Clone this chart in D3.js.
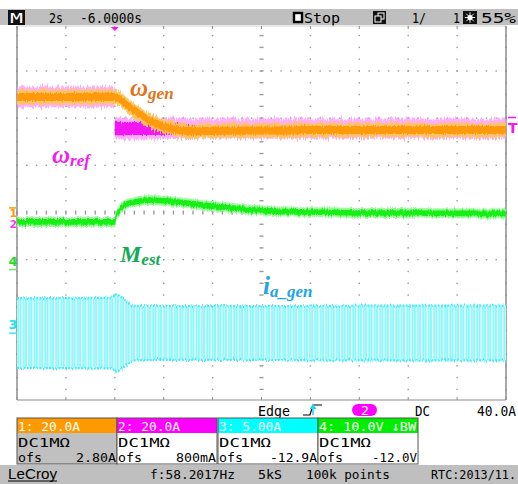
<!DOCTYPE html>
<html><head><meta charset="utf-8">
<script src="https://cdn.jsdelivr.net/npm/d3@7"></script>
<style>html,body{margin:0;padding:0;background:#fff;}svg{display:block;}</style>
</head><body>
<script>
// ---------- data ----------
// time axis: 2 s/div, 10 divisions
const timeDomain = [0, 20];
const timeGrid = [0, 2, 4, 6, 8, 10, 12, 14, 16, 18, 20];
const divGrid = [-4, -3, -2, -1, 0, 1, 2, 3, 4];

// channel settings
const channelNames = ["1: 20.0A", "2: 20.0A", "3: 5.00A", "4: 10.0V \u2193BW"];
const channelScale = [20, 20, 5, 10];      // units per division
const channelOffset = [2.8, 0.8, -12.9, -12.0];
const channelCoupling = ["DC1M\u03a9", "DC1M\u03a9", "DC1M\u03a9", "DC1M\u03a9"];
const channelOfsText = ["2.80A", "800mA", "-12.9A", "-12.0V"];

// ch1 : omega_gen (A)
const genTime = [0, 2, 4.0, 4.2, 4.6, 5.0, 5.4, 5.8, 6.2, 6.6, 7.0, 8, 10, 11, 12, 14, 16, 18, 20];
const genValue = [46.2, 46.2, 46.2, 45.3, 41.9, 39.2, 36.4, 34.5, 33.0, 32.2, 31.7, 31.8, 32.0, 31.9, 32.2, 32.2, 32.2, 32.2, 32.2];
const genRipple = [1.7, 3.1];     // core, fringe half-width (A)

// ch2 : omega_ref (A)
const refTime = [0, 4.0, 4.0, 6.6, 7.2, 20];
const refValue = [48.2, 48.2, 34.8, 34.8, 34.8, 34.8];
const refCore = [1.2, 1.2, 2.9, 2.6, 1.0, 1.0];   // dense part of the noise band (A)
const refFringe = [4.4, 4.4, 4.6, 4.4, 4.3, 4.3]; // outer noise band (A)

// ch4 : M_est (V)
const mTime = [0, 2, 4.0, 4.05, 4.15, 4.4, 4.8, 5.4, 6.2, 7.5, 8.8, 10, 12, 14, 16, 18, 20];
const mValue = [10.0, 10.0, 10.0, 11.0, 12.1, 13.6, 14.2, 14.65, 14.4, 13.6, 12.95, 12.4, 12.1, 11.9, 11.9, 11.8, 11.8];
const mRipple = [0.6, 1.05];

// ch3 : i_a_gen envelope (A peak), 58.2 Hz carrier
const iaTime = [0, 2, 3.9, 4.05, 4.3, 4.5, 4.75, 6, 10, 14, 20];
const iaAmp = [3.7, 3.72, 3.75, 4.1, 3.75, 3.35, 2.9, 2.85, 2.85, 2.9, 2.9];
const iaMean = 0.12;

// ---------- layout ----------
const W = 518, H = 484;
const plot = {x0: 17, x1: 506, y0: 23.8, y1: 401.2, top: 26, bottom: 400};

const svg = d3.select("body").append("svg").attr("width", W).attr("height", H)
  .attr("viewBox", `0 0 ${W} ${H}`);
const mono = "'DejaVu Sans Mono', 'Liberation Mono', monospace";

const x = d3.scaleLinear().domain(timeDomain).range([plot.x0, plot.x1]);
const yDiv = d3.scaleLinear().domain([-4, 4]).range([plot.y1, plot.y0]);
const chY = i => d3.scaleLinear()
  .domain([-4 * channelScale[i] - channelOffset[i], 4 * channelScale[i] - channelOffset[i]])
  .range([plot.y1, plot.y0]);

const defs = svg.append("defs");
defs.append("clipPath").attr("id", "clip").append("rect")
  .attr("x", plot.x0).attr("y", plot.top).attr("width", plot.x1 - plot.x0).attr("height", plot.bottom - plot.top);
function noiseFilter(id, freq, seed, scale) {
  const f = defs.append("filter").attr("id", id).attr("filterUnits", "userSpaceOnUse")
    .attr("x", 0).attr("y", 0).attr("width", W).attr("height", H);
  f.append("feTurbulence").attr("type", "fractalNoise").attr("baseFrequency", freq)
    .attr("numOctaves", 2).attr("seed", seed).attr("result", "n");
  f.append("feColorMatrix").attr("in", "n").attr("type", "matrix")
    .attr("values", "0 0 0 0 0.5  0 1 0 0 0  0 0 0 0 0  0 0 0 0 1").attr("result", "n2");
  f.append("feDisplacementMap").attr("in", "SourceGraphic").attr("in2", "n2").attr("scale", scale)
    .attr("xChannelSelector", "R").attr("yChannelSelector", "G");
}
noiseFilter("fuzz", "0.75 0.02", 4, 9);
noiseFilter("fuzz2", "0.9 0.03", 11, 5);
// stripe pattern for the aliased sine carrier
const pat = defs.append("pattern").attr("id", "stripes").attr("patternUnits", "userSpaceOnUse")
  .attr("width", 5.4).attr("height", 10);
pat.append("rect").attr("width", 5.4).attr("height", 10).attr("fill", "#8cf7fc");
pat.append("rect").attr("x", 0).attr("width", 1.1).attr("height", 10).attr("fill", "#ffffff");
pat.append("rect").attr("x", 2.8).attr("width", 0.6).attr("height", 10).attr("fill", "#d4fcff");

// ---------- top status bar ----------
svg.append("rect").attr("x", 0).attr("y", 9).attr("width", W).attr("height", 16).attr("fill", "#bfbfbf");
svg.append("rect").attr("x", 8).attr("y", 10).attr("width", 17).attr("height", 15).attr("fill", "#111");
function txt(g, s, x0, yb, len, opts = {}) {
  const t = g.append("text").attr("x", x0).attr("y", yb).text(s)
    .attr("font-family", opts.family || mono).attr("font-size", opts.size || 14)
    .attr("fill", opts.fill || "#000");
  if (opts.weight) t.attr("font-weight", opts.weight);
  if (len) t.attr("textLength", len).attr("lengthAdjust", "spacingAndGlyphs");
  if (opts.anchor) t.attr("text-anchor", opts.anchor);
  return t;
}
txt(svg, "M", 10, 23, 13, {fill: "#fff"});
txt(svg, "2s", 49, 23, 14);
txt(svg, "-6.0000s", 80, 23, 62);
svg.append("rect").attr("x", 294).attr("y", 13).attr("width", 8).attr("height", 9)
  .attr("fill", "#fff").attr("stroke", "#000").attr("stroke-width", 2.4);
txt(svg, "Stop", 304, 23, 36);
svg.append("rect").attr("x", 373).attr("y", 11).attr("width", 13).attr("height", 13).attr("fill", "#111");
svg.append("rect").attr("x", 378).attr("y", 13).attr("width", 6).attr("height", 6).attr("fill", "none").attr("stroke", "#fff").attr("stroke-width", 1);
svg.append("rect").attr("x", 375).attr("y", 16).attr("width", 6).attr("height", 6).attr("fill", "#111").attr("stroke", "#fff").attr("stroke-width", 1);
txt(svg, "1/", 412, 23, 14);
txt(svg, "1", 453, 23, 7);
svg.append("rect").attr("x", 463).attr("y", 11).attr("width", 14).attr("height", 13).attr("fill", "#111");
svg.append("circle").attr("cx", 470).attr("cy", 17.5).attr("r", 2.6).attr("fill", "#fff");
[0, 45, 90, 135].forEach(a => {
  const r = a * Math.PI / 180;
  svg.append("line").attr("x1", 470 - 5.2 * Math.cos(r)).attr("y1", 17.5 - 5.2 * Math.sin(r))
    .attr("x2", 470 + 5.2 * Math.cos(r)).attr("y2", 17.5 + 5.2 * Math.sin(r))
    .attr("stroke", "#fff").attr("stroke-width", 0.9);
});
txt(svg, "55%", 481, 23, 35);

// ---------- grid ----------
const grid = svg.append("g");
const divW = (plot.x1 - plot.x0) / 10, divH = (plot.y1 - plot.y0) / 8;
divGrid.forEach(d => {
  const yy = yDiv(d);
  if (yy < plot.top || yy > plot.bottom) return;
  for (let k = 0; k <= 50; k++) {
    const xx = plot.x0 + k * divW / 5;
    const center = d === 0;
    grid.append("rect").attr("x", xx - 0.7).attr("y", yy - (center ? 2 : 0.7))
      .attr("width", 1.4).attr("height", center ? 4 : 1.4).attr("fill", "#9a9a9a");
  }
});
timeGrid.forEach((t, i) => {
  const xx = x(t);
  for (let k = 0; k <= 32; k++) {
    const yy = plot.y0 + k * divH / 4;
    if (yy < plot.top || yy > plot.bottom) continue;
    const center = i === 5;
    grid.append("rect").attr("x", xx - (center ? 2 : 0.7)).attr("y", yy - 0.7)
      .attr("width", center ? 4 : 1.4).attr("height", 1.4).attr("fill", "#9a9a9a");
  }
});
grid.append("line").attr("x1", plot.x0).attr("x2", plot.x0).attr("y1", plot.top).attr("y2", plot.bottom).attr("stroke", "#8c8c8c").attr("stroke-width", 1.5);
grid.append("line").attr("x1", plot.x1).attr("x2", plot.x1).attr("y1", plot.top).attr("y2", plot.bottom).attr("stroke", "#8c8c8c").attr("stroke-width", 1.5);
grid.append("line").attr("x1", plot.x0).attr("x2", plot.x1).attr("y1", plot.bottom).attr("y2", plot.bottom).attr("stroke", "#8c8c8c").attr("stroke-width", 1.2);
grid.append("line").attr("x1", plot.x0).attr("x2", plot.x1).attr("y1", plot.top).attr("y2", plot.top).attr("stroke", "#d0d0d0").attr("stroke-width", 1);
timeGrid.forEach(t => {
  grid.append("line").attr("x1", x(t)).attr("x2", x(t)).attr("y1", plot.top).attr("y2", plot.top + 3).attr("stroke", "#8c8c8c");
  grid.append("line").attr("x1", x(t)).attr("x2", x(t)).attr("y1", plot.bottom).attr("y2", plot.bottom - 3).attr("stroke", "#8c8c8c");
});

// ---------- traces ----------
const traces = svg.append("g").attr("clip-path", "url(#clip)");
function band(times, values, yS, halfs, fill, opacity, filt, curve) {
  const rows = times.map((t, i) => ({t, v: values[i], h: Array.isArray(halfs) ? halfs[i] : halfs}));
  const a = d3.area().x(d => x(d.t)).y0(d => yS(d.v - d.h)).y1(d => yS(d.v + d.h))
    .curve(curve || d3.curveLinear);
  traces.append("path").datum(rows).attr("d", a).attr("fill", fill)
    .attr("fill-opacity", opacity).attr("filter", filt ? `url(#${filt})` : null);
}
// ch3 cyan carrier envelope
{
  const yS = chY(2);
  const rows = iaTime.map((t, i) => ({t, a: iaAmp[i]}));
  const a = d3.area().x(d => x(d.t)).y0(d => yS(iaMean - d.a)).y1(d => yS(iaMean + d.a)).curve(d3.curveMonotoneX);
  traces.append("path").datum(rows).attr("d", a).attr("fill", "url(#stripes)").attr("filter", "url(#fuzz2)");
  const top = d3.line().x(d => x(d.t)).y(d => yS(iaMean + d.a)).curve(d3.curveMonotoneX);
  const bot = d3.line().x(d => x(d.t)).y(d => yS(iaMean - d.a)).curve(d3.curveMonotoneX);
  [top, bot].forEach(l => traces.append("path").datum(rows).attr("d", l).attr("fill", "none")
    .attr("stroke", "#4ae8f3").attr("stroke-width", 2.2).attr("stroke-dasharray", "2 1.2").attr("filter", "url(#fuzz2)"));
}
// ch4 green
band(mTime, mValue, chY(3), mRipple[1], "#8dff8d", 0.9, "fuzz2", d3.curveMonotoneX);
band(mTime, mValue, chY(3), mRipple[0], "#14ee14", 1, "fuzz2", d3.curveMonotoneX);
// ch2 magenta
band(refTime, refValue, chY(1), refFringe, "#ff8cff", 0.7, "fuzz");
band(refTime, refValue, chY(1), refCore, "#f20cf2", 0.95, "fuzz2");
// ch1 orange
band(genTime, genValue, chY(0), genRipple[1], "#ffc45e", 0.95, "fuzz", d3.curveMonotoneX);
band(genTime, genValue, chY(0), genRipple[0], "#ff9a0a", 1, "fuzz2", d3.curveMonotoneX);

// ---------- markers ----------
const mk = svg.append("g").attr("font-family", "'DejaVu Sans', sans-serif").attr("font-weight", "bold").attr("font-size", 11);
const zeroY = i => chY(i)(0);
mk.append("line").attr("x1", 9).attr("x2", 16).attr("y1", zeroY(0) + 2).attr("y2", zeroY(0) + 2).attr("stroke", "#ff9a0a").attr("stroke-width", 1.5);
mk.append("text").attr("x", 9.5).attr("y", 217).attr("fill", "#ff9a0a").text("1");
mk.append("text").attr("x", 9.5).attr("y", 228).attr("fill", "#ff10ff").attr("fill-opacity", 0.85).text("2");
mk.append("text").attr("x", 8.5).attr("y", zeroY(3) - 3).attr("fill", "#22dd22").attr("font-size", 13).text("4");
mk.append("line").attr("x1", 9).attr("x2", 16).attr("y1", zeroY(3) + 0.5).attr("y2", zeroY(3) + 0.5).attr("stroke", "#66ee66").attr("stroke-width", 1.5);
mk.append("text").attr("x", 8.5).attr("y", zeroY(2) - 5).attr("fill", "#22e0f0").attr("font-size", 13).text("3");
mk.append("line").attr("x1", 9).attr("x2", 16).attr("y1", zeroY(2) - 1).attr("y2", zeroY(2) - 1).attr("stroke", "#44e6f2").attr("stroke-width", 1.5);
const trigY = chY(1)(refValue[5]);
mk.append("line").attr("x1", 508).attr("x2", 516).attr("y1", trigY - 11).attr("y2", trigY - 11).attr("stroke", "#ff10ff").attr("stroke-width", 1.5);
mk.append("text").attr("x", 508).attr("y", trigY + 4).attr("fill", "#ff10ff").attr("font-size", 14).text("T");
svg.append("path").attr("d", `M${x(4) - 4},27 L${x(4) + 4},27 L${x(4)},31 Z`).attr("fill", "#ff10ff");

// ---------- annotation labels ----------
const lab = svg.append("g").attr("font-family", "'Liberation Serif', 'Times New Roman', serif")
  .attr("font-style", "italic").attr("font-weight", "bold");
function sym(main, sub, x0, yb, col, s1, s2) {
  const t = lab.append("text").attr("x", x0).attr("y", yb).attr("fill", col);
  t.append("tspan").attr("font-size", s1).text(main);
  t.append("tspan").attr("font-size", s2).attr("dy", 3).text(sub);
}
sym("\u03c9", "gen", 130, 96, "#e27418", 25, 17);
sym("\u03c9", "ref", 52, 163, "#f21cf2", 25, 17);
sym("M", "est", 120, 262, "#12aa55", 24, 17);
sym("i", "a_gen", 263, 294, "#1da3e6", 25, 17);

// ---------- bottom info ----------
txt(svg, "Edge", 258, 416, 32);
svg.append("path").attr("d", "M303,415 H310 L313,405 H322").attr("fill", "none").attr("stroke", "#000").attr("stroke-width", 1.2);
svg.append("line").attr("x1", 313).attr("x2", 313).attr("y1", 415).attr("y2", 408).attr("stroke", "#22d6ee").attr("stroke-width", 1.6);
svg.append("path").attr("d", "M309.5,409 L313,403.5 L316.5,409 Z").attr("fill", "#22d6ee");
svg.append("rect").attr("x", 352).attr("y", 404).attr("width", 25).attr("height", 12).attr("rx", 6).attr("fill", "#ff00ff");
txt(svg, "2", 361, 415, 8, {fill: "#fff", size: 12});
txt(svg, "DC", 415, 416, 15);
txt(svg, "40.0A", 477, 416, 39);

const boxX = [17, 117, 218, 318];
const boxCol = ["#ff9900", "#ff00ff", "#00ffff", "#00ee00"];
const boxBody = ["#c0c0c0", "#ffffff", "#ffffff", "#ffffff"];
const nameLen = [62, 62, 62, 97];
const ofsLen = [40, 40, 47, 45];
channelNames.forEach((name, i) => {
  const bx = boxX[i], bw = 100;
  svg.append("rect").attr("x", bx).attr("y", 433).attr("width", bw).attr("height", 31).attr("fill", boxBody[i]);
  svg.append("rect").attr("x", bx).attr("y", 418).attr("width", bw).attr("height", 15).attr("fill", boxCol[i]);
  svg.append("rect").attr("x", bx).attr("y", 418).attr("width", bw).attr("height", 46)
    .attr("fill", "none").attr("stroke", "#555").attr("stroke-width", 1);
  txt(svg, name, bx + 1, 431, nameLen[i], {fill: "#fff", size: 13});
  txt(svg, channelCoupling[i], bx + 1, 447, 52, {size: 12});
  txt(svg, "ofs", bx + 1, 462, 24, {size: 12});
  txt(svg, channelOfsText[i], bx + 99, 462, ofsLen[i], {anchor: "end", size: 12});
});

svg.append("rect").attr("x", 0).attr("y", 465).attr("width", W).attr("height", 19).attr("fill", "#bfbfbf");
txt(svg, "LeCroy", 8, 479, 49, {family: "'Liberation Sans', Arial, sans-serif", size: 15});
svg.append("line").attr("x1", 8).attr("x2", 57).attr("y1", 481).attr("y2", 481).attr("stroke", "#000").attr("stroke-width", 1);
txt(svg, "f:58.2017Hz", 150, 479, 85, {size: 13});
txt(svg, "5kS", 258, 479, 24, {size: 13});
txt(svg, "100k points", 306, 479, 84, {size: 13});
txt(svg, "RTC:2013/11.", 431, 479, 85, {size: 13});
</script>
</body></html>
